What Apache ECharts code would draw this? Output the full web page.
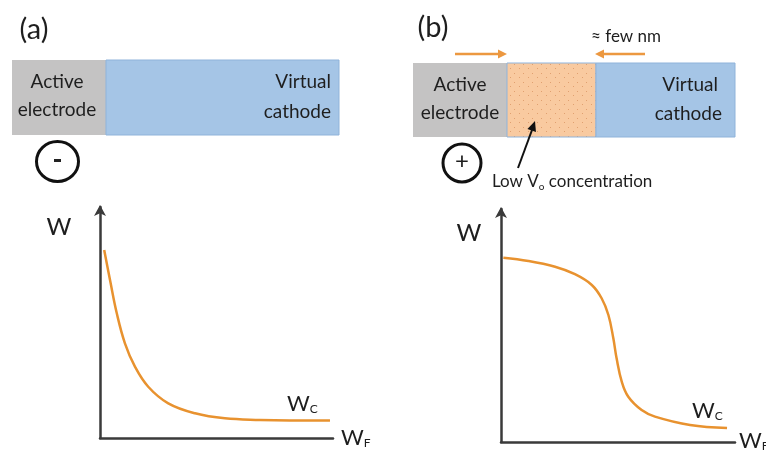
<!DOCTYPE html>
<html><head><meta charset="utf-8">
<script src="https://cdn.jsdelivr.net/npm/echarts@6/dist/echarts.min.js"></script>
<style>html,body{margin:0;padding:0;background:#fff}#c{width:766px;height:454px}</style>
</head><body><div id="c"></div>
<script>
// Panel (a): W vs W_F, exponential-like decay
const curveA_x = [1.8, 4.3, 7.2, 10.7, 15.0, 20.7, 29.3, 40.8, 53.6, 68.7, 81.5, 98.7];
const curveA_y = [81.4, 68.4, 54.0, 41.0, 30.9, 22.2, 15.0, 10.7, 8.5, 7.8, 7.6, 7.6];
// Panel (b): W vs W_F, sigmoidal drop
const curveB_x = [1.0, 11.7, 23.1, 31.6, 38.8, 43.0, 45.9, 48.0, 49.4, 51.6, 54.4, 60.1, 65.8, 80.8, 96.6];
const curveB_y = [79.1, 77.7, 75.2, 72.0, 67.4, 61.7, 54.5, 44.5, 35.9, 25.9, 19.4, 13.7, 10.9, 7.3, 6.0];
// Text labels
const panelLabels = ['(a)', '(b)'];
const yLabel = 'W';
const xLabel = 'W';
const xLabelSub = 'F';
const curveLabel = 'W';
const curveLabelSub = 'C';

const FONT = 'Lato, "Open Sans", sans-serif';
const CURVE = '#e8922f';
const AXIS = '#3a3a3a';
const GRAY = '#c4c3c3';
const BLUE = '#a5c5e6';
const BLUE_B = '#8fb3da';
const ORANGE = '#f9caa0';
const ARROW_OR = '#ec9840';
const TXT = '#1e1e1e';

function dotPattern() {
  const c = document.createElement('canvas');
  c.width = 9; c.height = 9;
  const g = c.getContext('2d');
  g.fillStyle = ORANGE; g.fillRect(0, 0, 9, 9);
  g.fillStyle = '#e0a070';
  g.fillRect(1, 1, 1, 1); g.fillRect(6, 5, 1, 1);
  return c;
}

const chart = echarts.init(document.getElementById('c'), null, {renderer: 'canvas'});

const axisCommon = {
  type: 'value', min: 0, max: 100,
  axisTick: {show: false}, axisLabel: {show: false}, splitLine: {show: false}
};
const xLine = {show: true, onZero: false, lineStyle: {color: AXIS, width: 2.5}};
const yLine = {show: true, onZero: false, symbol: ['none', 'arrow'], symbolSize: [9, 11], symbolOffset: [0, 2],
  lineStyle: {color: AXIS, width: 2.5}};

function txt(x, y, text, size, align, extra) {
  return Object.assign({type: 'text', x: x, y: y, style: {text: text, font: size + 'px ' + FONT, fill: TXT,
    align: align || 'center', verticalAlign: 'middle'}}, extra || {});
}
function rich(x, y, main, sub, size) {
  return {type: 'text', x: x, y: y, style: {
    text: '{m|' + main + '}{s|' + sub + '}', align: 'left', verticalAlign: 'middle',
    rich: {m: {fontSize: size, fontFamily: FONT, fill: TXT},
           s: {fontSize: Math.round(size * 0.55), fontFamily: FONT, fill: TXT, padding: [size * 0.45, 0, 0, 0]}}
  }};
}
function arrowHead(tx, ty, dx, dy, len, wid, color) {
  const n = Math.hypot(dx, dy); const ux = dx / n, uy = dy / n;
  const bx = tx - ux * len, by = ty - uy * len;
  return {type: 'polygon', shape: {points: [[tx, ty], [bx - uy * wid, by + ux * wid], [bx + uy * wid, by - ux * wid]]},
    style: {fill: color}};
}

const graphics = [
  txt(34, 30, panelLabels[0], 29),
  txt(433, 28, panelLabels[1], 29),
  // panel a boxes
  {type: 'rect', shape: {x: 12, y: 60, width: 94, height: 75}, style: {fill: GRAY}},
  {type: 'rect', shape: {x: 106, y: 60, width: 233, height: 75}, style: {fill: BLUE, stroke: BLUE_B, lineWidth: 1}},
  txt(57, 82, 'Active', 19), txt(57, 110, 'electrode', 19),
  txt(331, 82, 'Virtual', 19, 'right'), txt(331, 112, 'cathode', 19, 'right'),
  {type: 'ellipse', shape: {cx: 57.5, cy: 161.5, rx: 21, ry: 20}, style: {fill: 'none', stroke: '#111', lineWidth: 3}},
  {type: 'rect', shape: {x: 54, y: 159, width: 7, height: 3}, style: {fill: '#222'}},
  // panel b boxes
  {type: 'rect', shape: {x: 413, y: 63, width: 94, height: 74}, style: {fill: GRAY}},
  {type: 'rect', shape: {x: 507, y: 63, width: 89, height: 74}, style: {fill: {image: dotPattern(), repeat: 'repeat'}, stroke: BLUE_B, lineWidth: 1}},
  {type: 'rect', shape: {x: 596, y: 63, width: 139, height: 74}, style: {fill: BLUE, stroke: BLUE_B, lineWidth: 1}},
  txt(460, 85, 'Active', 19), txt(460, 113, 'electrode', 19),
  txt(718, 85, 'Virtual', 19, 'right'), txt(722, 114, 'cathode', 19, 'right'),
  {type: 'ellipse', shape: {cx: 462, cy: 163, rx: 19, ry: 19}, style: {fill: 'none', stroke: '#111', lineWidth: 3}},
  txt(462, 161, '+', 24),
  // orange arrows
  {type: 'line', shape: {x1: 455, y1: 54, x2: 500, y2: 54}, style: {stroke: ARROW_OR, lineWidth: 2.5}},
  arrowHead(507, 54, 1, 0, 9, 4.5, ARROW_OR),
  {type: 'line', shape: {x1: 645, y1: 54, x2: 602, y2: 54}, style: {stroke: ARROW_OR, lineWidth: 2.5}},
  arrowHead(595, 54, -1, 0, 9, 4.5, ARROW_OR),
  txt(626, 37, '\u2248 few nm', 17),
  // black arrow to orange region
  {type: 'line', shape: {x1: 518, y1: 168, x2: 532, y2: 130}, style: {stroke: '#111', lineWidth: 2}},
  arrowHead(535, 121, 0.35, -1, 10, 4.5, '#111'),
  {type: 'text', x: 492, y: 182, style: {text: 'Low V{s|o} concentration', align: 'left', verticalAlign: 'middle',
    fontSize: 17, fontFamily: FONT, fill: TXT,
    rich: {s: {fontSize: 10, fontFamily: FONT, fill: TXT, padding: [9, 0, 0, 0]}}}},
  // axis labels
  txt(59, 227, yLabel, 24),
  txt(469, 233, yLabel, 24),
  rich(341, 438, xLabel, xLabelSub, 22),
  rich(739, 441, xLabel, xLabelSub, 22),
  rich(287, 404, curveLabel, curveLabelSub, 22),
  rich(692, 411, curveLabel, curveLabelSub, 22)
];

chart.setOption({
  animation: false,
  backgroundColor: '#fff',
  grid: [
    {left: 100, top: 207, width: 233, bottom: 16},
    {left: 501, top: 209, width: 234, bottom: 12}
  ],
  xAxis: [
    Object.assign({gridIndex: 0, axisLine: xLine}, axisCommon),
    Object.assign({gridIndex: 1, axisLine: xLine}, axisCommon)
  ],
  yAxis: [
    Object.assign({gridIndex: 0, axisLine: yLine}, axisCommon),
    Object.assign({gridIndex: 1, axisLine: yLine}, axisCommon)
  ],
  series: [
    {type: 'line', xAxisIndex: 0, yAxisIndex: 0, smooth: 0.4, symbol: 'none',
     data: curveA_x.map((x, i) => [x, curveA_y[i]]), lineStyle: {color: CURVE, width: 2.5}},
    {type: 'line', xAxisIndex: 1, yAxisIndex: 1, smooth: 0.4, symbol: 'none',
     data: curveB_x.map((x, i) => [x, curveB_y[i]]), lineStyle: {color: CURVE, width: 2.5}}
  ],
  graphic: graphics
});
</script></body></html>
